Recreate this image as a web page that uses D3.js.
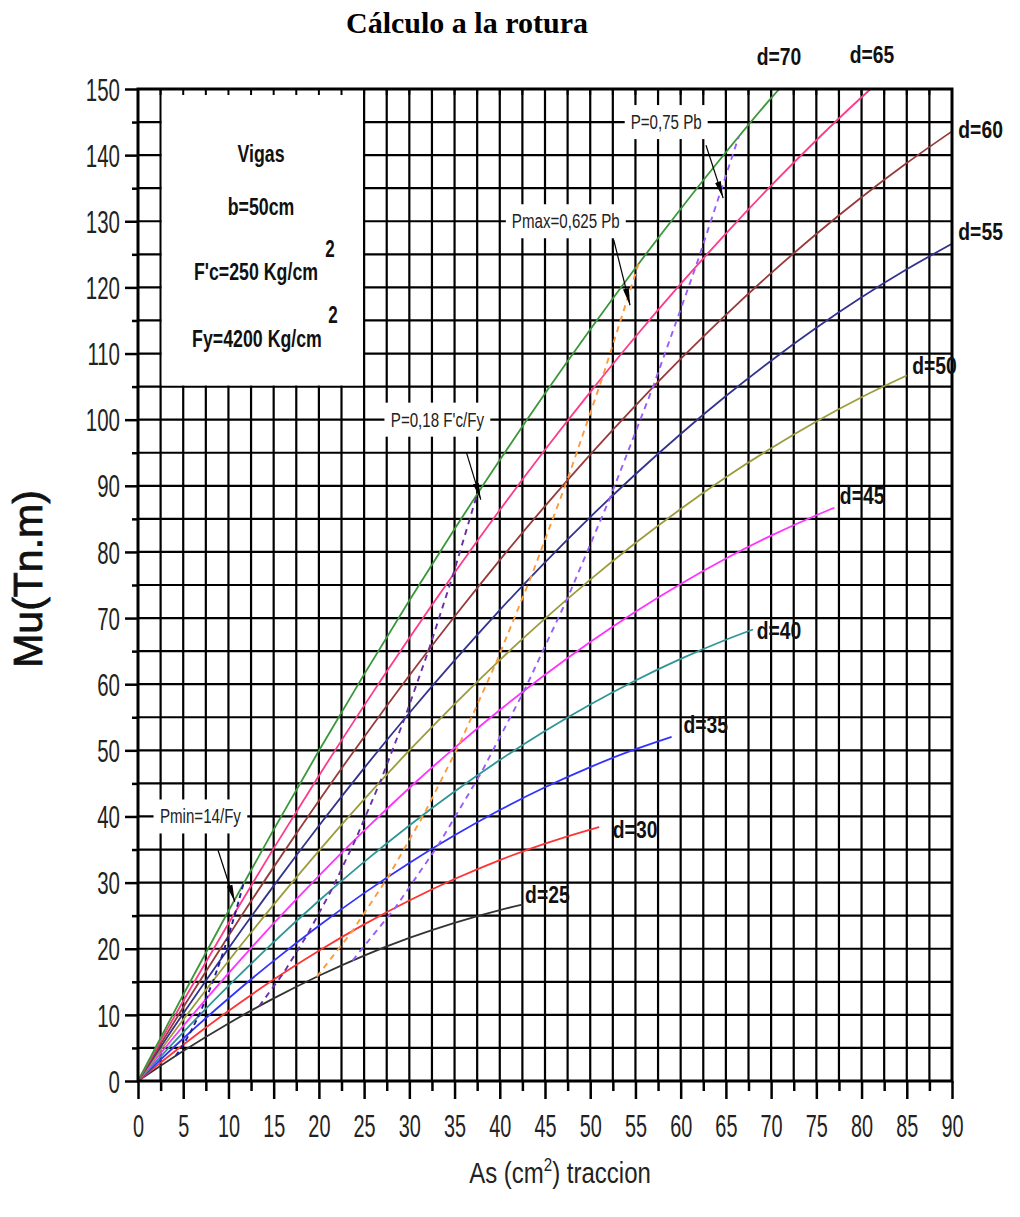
<!DOCTYPE html>
<html><head><meta charset="utf-8">
<script src="https://cdn.jsdelivr.net/npm/d3@7"></script>
<style>body{margin:0;background:#fff} svg{display:block}</style>
</head><body><svg id="c" width="1020" height="1217"></svg>
<script>
// ---------- DATA ----------
const asTicks = [0,5,10,15,20,25,30,35,40,45,50,55,60,65,70,75,80,85,90];
const muTicks = [0,10,20,30,40,50,60,70,80,90,100,110,120,130,140,150];
const depthLabels = ["d=25","d=30","d=35","d=40","d=45","d=50","d=55","d=60","d=65","d=70"];

const asD25 = [0,5,10,15,20,25,30,35,40,42.5];
const muD25 = [0,4.54,8.70,12.49,15.91,18.96,21.63,23.92,25.85,26.67];
const asD30 = [0,5,10,15,20,25,30,35,40,45,50,51];
const muD30 = [0,5.48,10.59,15.33,19.69,23.68,27.30,30.54,33.41,35.90,38.02,38.40];
const asD35 = [0,5,10,15,20,25,30,35,40,45,50,55,59];
const muD35 = [0,6.43,12.48,18.16,23.47,28.41,32.97,37.15,40.97,44.41,47.47,50.17,52.05];
const asD40 = [0,5,10,15,20,25,30,35,40,45,50,55,60,65,68];
const muD40 = [0,7.37,14.37,21.00,27.25,33.13,38.64,43.77,48.53,52.91,56.92,60.56,63.82,66.72,68.27];
const asD45 = [0,5,10,15,20,25,30,35,40,45,50,55,60,65,70,75,77];
const muD45 = [0,8.32,16.26,23.83,31.03,37.86,44.31,50.38,56.09,61.42,66.37,70.96,75.16,79.00,82.46,85.55,86.68];
const asD50 = [0,5,10,15,20,25,30,35,40,45,50,55,60,65,70,75,80,85];
const muD50 = [0,9.26,18.15,26.67,34.81,42.58,49.98,57.00,63.65,69.92,75.82,81.35,86.50,91.29,95.69,99.73,103.39,106.67];
const asD55 = [0,5,10,15,20,25,30,35,40,45,50,55,60,65,70,75,80,85,90];
const muD55 = [0,10.21,20.04,29.50,38.59,47.31,55.65,63.61,71.21,78.43,85.27,91.75,97.84,103.57,108.92,113.90,118.51,122.74,126.59];
const asD60 = [0,5,10,15,20,25,30,35,40,45,50,55,60,65,70,75,80,85,90];
const muD60 = [0,11.15,21.93,32.34,42.37,52.03,61.32,70.23,78.77,86.93,94.72,102.14,109.18,115.86,122.15,128.08,133.63,138.80,143.60];
const asD65 = [0,5,10,15,20,25,30,35,40,45,50,55,60,65,70,75,80,81];
const muD65 = [0,12.10,23.82,35.17,46.15,56.76,66.99,76.84,86.33,95.44,104.17,112.54,120.52,128.14,135.38,142.25,148.75,150.0];
const asD70 = [0,5,10,15,20,25,30,35,40,45,50,55,60,65,70,70.9];
const muD70 = [0,13.04,25.71,38.01,49.93,61.48,72.66,83.46,93.89,103.94,113.62,122.93,131.86,140.43,148.61,150.0];

// reinforcement ratio limit lines (one point per depth, d=25..70)
const asPmin  = [4.17,5.00,5.83,6.67,7.50,8.33,9.17,10.00,10.83,11.67];
const muPmin  = [3.81,5.48,7.46,9.75,12.34,15.23,18.44,21.93,25.73,29.86];
const asP018  = [13.39,16.07,18.75,21.43,24.11,26.79,29.46,32.14,34.82,37.50];
const muP018  = [11.31,16.29,22.18,28.97,36.67,45.27,54.77,65.17,76.49,88.72];
const asPmax  = [19.77,23.72,27.67,31.62,35.58,39.53,43.48,47.44,51.39,55.34];
const muPmax  = [15.76,22.70,30.89,40.34,51.06,63.04,76.28,90.78,106.53,123.55];
const asP075  = [23.72,28.46,33.21,37.95,42.70,47.44,52.18,56.93,61.67,66.42];
const muP075  = [18.22,26.22,35.70,46.62,59.01,72.85,88.15,104.91,123.12,142.79];

const annotationTexts = ["Pmin=14/Fy","P=0,18 F'c/Fy","Pmax=0,625 Pb","P=0,75 Pb"];
const infoLines = ["Vigas","b=50cm","F'c=250 Kg/cm","Fy=4200 Kg/cm"];

// ---------- LAYOUT / STYLE ----------
const FONT = "'Liberation Sans', Arial, sans-serif";
const svg = d3.select('#c');
const x = d3.scaleLinear().domain([0,90]).range([138,952]);
const y = d3.scaleLinear().domain([0,150]).range([1081,89]);

const curves = [
  {as:asD25, mu:muD25, color:'#333333', lab:[42.8,26.9]},
  {as:asD30, mu:muD30, color:'#ff3333', lab:[52.5,36.7]},
  {as:asD35, mu:muD35, color:'#3333ff', lab:[60.3,52.6]},
  {as:asD40, mu:muD40, color:'#2f9696', lab:[68.4,66.8]},
  {as:asD45, mu:muD45, color:'#ff33ff', lab:[77.6,87.3]},
  {as:asD50, mu:muD50, color:'#9c9c3c', lab:[85.6,106.9]},
  {as:asD55, mu:muD55, color:'#33338f', lab:[90.7,127.2]},
  {as:asD60, mu:muD60, color:'#983a3a', lab:[90.7,142.6]},
  {as:asD65, mu:muD65, color:'#ff3a8a', lab:[78.7,153.9]},
  {as:asD70, mu:muD70, color:'#3a983a', lab:[68.4,153.6]}
];
const limits = [
  {as:asPmin, mu:muPmin, color:'#1c1ca0', dash:'5,4'},
  {as:asP018, mu:muP018, color:'#6a2fa8', dash:'6,5'},
  {as:asPmax, mu:muPmax, color:'#ff9a3a', dash:'6,5'},
  {as:asP075, mu:muP075, color:'#9a5cff', dash:'6,5'}
];
const annPos = [
  {c:[6.9,40],  from:[8.85,34.9], to:[10.7,27.1]},
  {c:[33.1,100],from:[36.3,95.1], to:[37.9,87.9]},
  {c:[47.3,130],from:[52.6,127.2],to:[54.4,117.3]},
  {c:[58.4,145],from:[62.8,141.5],to:[64.7,133.5]}
];

function stext(parent, px, py, str, o) {
  return parent.append('text')
    .attr('transform', `translate(${px},${py}) scale(${o.sx||1},1)`)
    .attr('font-family', o.family || FONT)
    .attr('font-size', o.size)
    .attr('font-weight', o.weight || 'normal')
    .attr('text-anchor', o.anchor || 'middle')
    .attr('fill', o.fill || '#111')
    .text(str);
}

// defs: arrowhead
svg.append('defs').append('marker')
  .attr('id','arr').attr('markerUnits','userSpaceOnUse')
  .attr('markerWidth',18).attr('markerHeight',8)
  .attr('refX',17).attr('refY',4).attr('orient','auto')
  .append('path').attr('d','M0,1 L17,4 L0,7 Z').attr('fill','#000');

// grid
const gGrid = svg.append('g');
gGrid.selectAll('line.v').data(d3.range(1,36).map(i=>i*2.5)).join('line')
  .attr('x1',d=>x(d)).attr('x2',d=>x(d)).attr('y1',y(0)).attr('y2',y(150))
  .attr('stroke','#000').attr('stroke-width',2.2);
gGrid.selectAll('line.h').data(d3.range(1,30).map(i=>i*5)).join('line')
  .attr('y1',d=>y(d)).attr('y2',d=>y(d)).attr('x1',x(0)).attr('x2',x(90))
  .attr('stroke','#000').attr('stroke-width',2.2);

// info box
svg.append('rect').attr('x',x(2.5)+1.1).attr('y',y(150)+1)
  .attr('width',x(25)-x(2.5)-2.2).attr('height',y(105)-y(150)-2.1).attr('fill','#fff');
const gInfo = svg.append('g');
const infoCx = 261;
stext(gInfo, infoCx, 162, infoLines[0], {size:24, weight:'bold', sx:0.74});
stext(gInfo, infoCx, 215, infoLines[1], {size:24, weight:'bold', sx:0.74});
stext(gInfo, 256, 280, infoLines[2], {size:24, weight:'bold', sx:0.74});
stext(gInfo, 330, 257, '2', {size:23, weight:'bold', sx:0.74});
stext(gInfo, 257, 347, infoLines[3], {size:24, weight:'bold', sx:0.74});
stext(gInfo, 333, 323, '2', {size:23, weight:'bold', sx:0.74});

// top inner ticks
svg.append('g').selectAll('line').data(d3.range(1,36).map(i=>i*2.5)).join('line')
  .attr('x1',d=>x(d)).attr('x2',d=>x(d)).attr('y1',y(150)).attr('y2',y(150)+6)
  .attr('stroke','#000').attr('stroke-width',2);

// annotation label boxes
const gAnn = svg.append('g');
annotationTexts.forEach((t,i)=>{
  const p = annPos[i];
  const g = gAnn.append('g');
  const tx = stext(g, x(p.c[0]), y(p.c[1]) + 7, t, {size:21, sx:0.72, fill:'#222'});
  const bb = tx.node().getBBox();
  const w = bb.width*0.72 + 12;
  g.insert('rect','text').attr('x', x(p.c[0]) - w/2).attr('y', y(p.c[1]) - 17)
    .attr('width', w).attr('height', 34).attr('fill','#fff');
});

// curves
const line = d3.line().x(d=>x(d[0])).y(d=>y(d[1])).curve(d3.curveMonotoneX);
const gCurves = svg.append('g');
curves.forEach(c=>{
  gCurves.append('path').attr('d', line(c.as.map((a,i)=>[a,c.mu[i]])))
    .attr('fill','none').attr('stroke',c.color).attr('stroke-width',1.8);
});
const lineL = d3.line().x(d=>x(d[0])).y(d=>y(d[1]));
limits.forEach(c=>{
  gCurves.append('path').attr('d', lineL(c.as.map((a,i)=>[a,c.mu[i]])))
    .attr('fill','none').attr('stroke',c.color).attr('stroke-width',1.9)
    .attr('stroke-dasharray',c.dash);
});

// arrows
annPos.forEach(p=>{
  svg.append('line').attr('x1',x(p.from[0])).attr('y1',y(p.from[1]))
    .attr('x2',x(p.to[0])).attr('y2',y(p.to[1]))
    .attr('stroke','#000').attr('stroke-width',1.2).attr('marker-end','url(#arr)');
});

// axes
const axB = svg.append('g').attr('transform',`translate(0,${y(0)})`)
  .call(d3.axisBottom(x).tickValues(asTicks).tickSize(18).tickFormat(d3.format('d')));
svg.append('g').attr('transform',`translate(0,${y(0)})`)
  .call(d3.axisBottom(x).tickValues(d3.range(0,18).map(i=>i*5+2.5)).tickSize(10).tickFormat(''));
const axL = svg.append('g').attr('transform',`translate(${x(0)},0)`)
  .call(d3.axisLeft(y).tickValues(muTicks).tickSize(13).tickFormat(d3.format('d')));
svg.append('g').attr('transform',`translate(${x(0)},0)`)
  .call(d3.axisLeft(y).tickValues(d3.range(0,15).map(i=>i*10+5)).tickSize(6).tickFormat(''));
svg.selectAll('.domain').remove();
svg.selectAll('.tick line').attr('stroke','#000').attr('stroke-width',2.5);
axB.selectAll('text').attr('y',null).attr('dy',null)
  .attr('transform','translate(0,56) scale(0.64,1)')
  .attr('font-family',FONT).attr('font-size',31).attr('fill','#222');
axL.selectAll('text').attr('x',null).attr('dy','0.36em')
  .attr('transform','translate(-18,0) scale(0.66,1)')
  .attr('font-family',FONT).attr('font-size',31).attr('fill','#222');

// frame
svg.append('rect').attr('x',x(0)).attr('y',y(150)).attr('width',x(90)-x(0)).attr('height',y(0)-y(150))
  .attr('fill','none').attr('stroke','#000').attr('stroke-width',3);

// depth labels
curves.forEach((c,i)=>{
  stext(svg, x(c.lab[0]), y(c.lab[1]), depthLabels[i], {size:23, weight:'bold', sx:0.84, anchor:'start'});
});

// titles
stext(svg, 467, 33, 'Cálculo a la rotura', {size:30, weight:'bold', family:"'Liberation Serif', 'Times New Roman', serif", fill:'#000'});
svg.append('text').attr('transform','translate(42,579) rotate(-90)')
  .attr('text-anchor','middle').attr('font-family',FONT).attr('font-size',41).attr('fill','#111')
  .attr('stroke','#111').attr('stroke-width',0.8)
  .text('Mu(Tn.m)');
const xt = svg.append('text').attr('transform','translate(560,1183) scale(0.8,1)')
  .attr('text-anchor','middle').attr('font-family',FONT).attr('font-size',30).attr('fill','#222');
xt.append('tspan').text('As (cm');
xt.append('tspan').attr('dy',-12).attr('font-size',19).text('2');
xt.append('tspan').attr('dy',12).text(') traccion');
</script></body></html>
